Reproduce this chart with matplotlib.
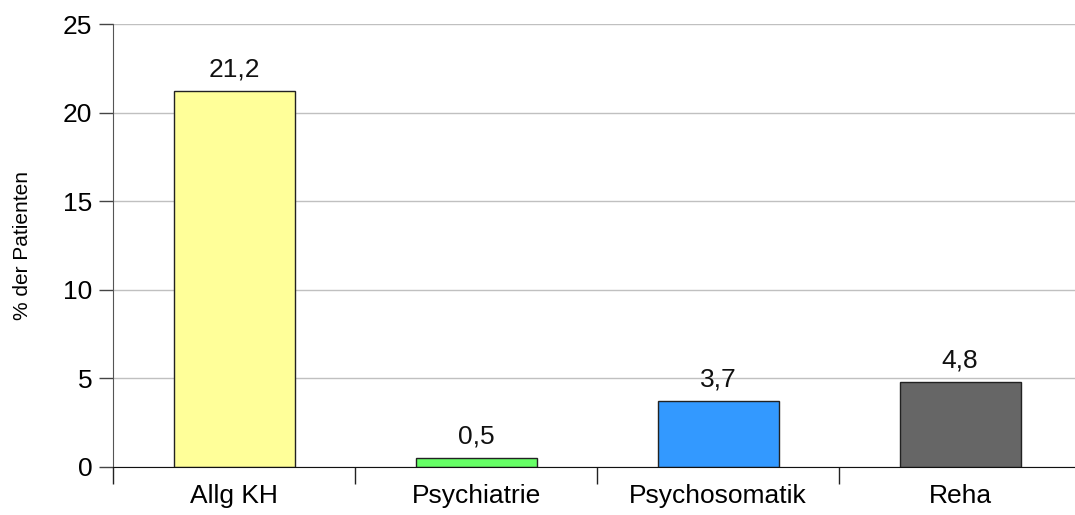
import matplotlib
matplotlib.use("Agg")
import matplotlib.pyplot as plt

# Anteil der Patienten je Bereich (%)
categories = ["Allg KH", "Psychiatrie", "Psychosomatik", "Reha"]
values = [21.2, 0.5, 3.7, 4.8]
bar_colors = ["#FFFF99", "#66FF66", "#3399FF", "#666666"]
yticks = [0, 5, 10, 15, 20, 25]

plt.rcParams["font.family"] = ["Liberation Sans", "DejaVu Sans"]

fig = plt.figure(figsize=(10.75, 5.15), dpi=100)
ax = fig.add_axes([113/1075, 48/515, 968/1075, 443/515])

x = range(len(categories))
ax.bar(x, values, width=0.5, color=bar_colors, edgecolor="#222222", linewidth=1, zorder=3)

for xi, v in zip(x, values):
    ax.text(xi, v + 0.55, f"{v:.1f}".replace(".", ","), ha="center", va="bottom",
            fontsize=19, color="#111111")

ax.set_xlim(-0.5, len(categories) - 0.5)
ax.set_ylim(0, 25)
ax.set_yticks(yticks)
ax.set_yticklabels([str(t) for t in yticks], fontsize=19)
ax.yaxis.grid(True, color="#c0c0c0", linewidth=1, zorder=0)

# x-Ticks an den Kategoriegrenzen, Beschriftung mittig
ax.set_xticks([i + 0.5 for i in range(len(categories) - 1)] + [-0.5])
ax.set_xticklabels([])
ax.set_xticks(list(x), minor=True)
ax.set_xticklabels(categories, minor=True, fontsize=19)
ax.tick_params(axis="x", which="major", length=12, width=1, color="#222222", direction="out")
ax.tick_params(axis="x", which="minor", length=0, pad=12)
ax.tick_params(axis="y", length=10, width=1, color="#444444", pad=5)

for side in ["top", "right"]:
    ax.spines[side].set_visible(False)
ax.spines["left"].set_color("#555555")
ax.spines["bottom"].set_color("#111111")
ax.spines["bottom"].set_zorder(4)

ax.set_ylabel("% der Patienten", fontsize=15, labelpad=22)

fig.savefig("out.png", dpi=100)
